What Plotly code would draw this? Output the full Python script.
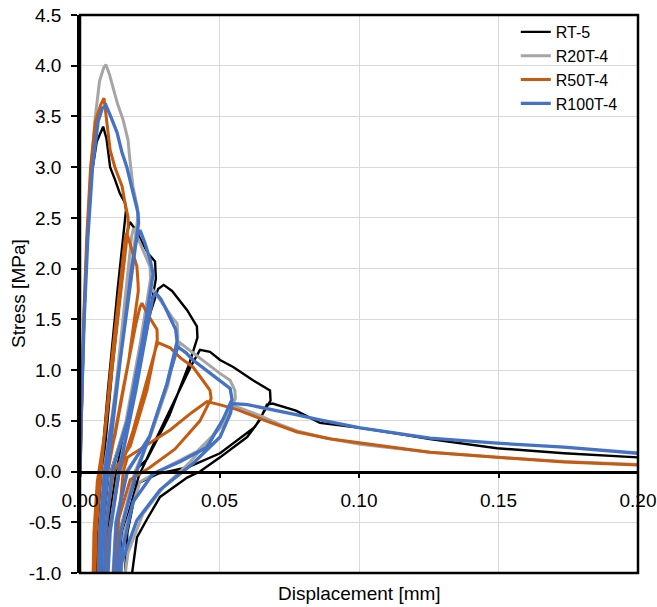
import plotly.graph_objects as go

# ---------------- data ----------------
series_names = ["RT-5", "R20T-4", "R50T-4", "R100T-4"]
series_colors = ["#000000", "#a5a5a5", "#c55a11", "#4472c4"]

rt5_x = [0, 0.0006, 0.0015, 0.0025, 0.0040, 0.0060, 0.0075, 0.0083, 0.0095, 0.0108, 0.0125, 0.0143, 0.0161, 0.0165,
         0.0135, 0.0100, 0.0075, 0.0062, 0.0056,
         0.0062, 0.0068, 0.0082, 0.0115, 0.0150, 0.0168, 0.0179,
         0.0200, 0.0222, 0.0244, 0.0269, 0.0272,
         0.0240, 0.0180, 0.0110, 0.0085, 0.0078,
         0.0088, 0.0098, 0.0130, 0.0190, 0.0250, 0.0280, 0.0300,
         0.0330, 0.0348, 0.0384, 0.0419, 0.0421,
         0.0390, 0.0320, 0.0240, 0.0200, 0.0195, 0.0140, 0.0120,
         0.0130, 0.0155, 0.0210, 0.0260, 0.0340, 0.0400, 0.0430,
         0.0466, 0.0502, 0.0549, 0.0620, 0.0681, 0.0683,
         0.0627, 0.0502, 0.0384, 0.0280, 0.0205, 0.0170, 0.0155,
         0.0172, 0.0204, 0.0240, 0.0287, 0.0384, 0.0430, 0.0502, 0.0599, 0.0645, 0.0670, 0.0690,
         0.0774, 0.0860, 0.1004, 0.1147, 0.1254, 0.1495, 0.1735, 0.2000]
rt5_y = [-0.05, 0.6, 1.5, 2.2, 2.9, 3.25, 3.36, 3.40, 3.28, 3.0, 2.88, 2.74, 2.65, 2.58,
         1.8, 0.8, 0.0, -0.6, -1.3,
         -1.3, -0.6, 0.0, 1.0, 1.9, 2.35, 2.46,
         2.38, 2.26, 2.15, 2.07, 1.90,
         1.4, 0.6, 0.0, -0.6, -1.3,
         -1.3, -0.6, 0.0, 0.8, 1.55, 1.80, 1.84,
         1.78, 1.72, 1.59, 1.43, 1.32,
         1.05, 0.55, 0.12, 0.02, -0.1, -0.6, -1.3,
         -1.3, -0.6, -0.05, 0.25, 0.70, 1.05, 1.20,
         1.18, 1.10, 1.03, 0.90, 0.80, 0.70,
         0.44, 0.18, 0.04, -0.02, -0.12, -0.6, -1.3,
         -1.3, -0.65, -0.47, -0.25, -0.06, 0.0, 0.14, 0.34, 0.51, 0.66, 0.67,
         0.60, 0.48, 0.43, 0.37, 0.32, 0.23, 0.18, 0.14]

r20_x = [0, 0.0005, 0.0014, 0.0026, 0.0040, 0.0055, 0.0070, 0.0085, 0.0093, 0.0105, 0.0118, 0.0135, 0.0154, 0.0172,
         0.0179, 0.0190, 0.0205, 0.0207,
         0.0165, 0.0115, 0.0085, 0.0070, 0.0064,
         0.0070, 0.0078, 0.0095, 0.0135, 0.0175, 0.0185, 0.0192,
         0.0215, 0.0235, 0.0251, 0.0253,
         0.0215, 0.0165, 0.0112, 0.0090, 0.0083,
         0.0093, 0.0105, 0.0138, 0.0195, 0.0240, 0.0250, 0.0258,
         0.0280, 0.0305, 0.0330, 0.0348, 0.0351,
         0.0315, 0.0250, 0.0165, 0.0128, 0.0112,
         0.0122, 0.0142, 0.0195, 0.0250, 0.0310, 0.0345, 0.0358,
         0.0400, 0.0450, 0.0500, 0.0538, 0.0555, 0.0557,
         0.0510, 0.0420, 0.0300, 0.0215, 0.0158, 0.0140,
         0.0148, 0.0172, 0.0225, 0.0300, 0.0390, 0.0470, 0.0525, 0.0545,
         0.0580, 0.0645, 0.0720, 0.0778, 0.0880, 0.1004, 0.1254, 0.1495, 0.1735, 0.2000]
r20_y = [-0.05, 0.6, 1.5, 2.3, 3.0, 3.5, 3.85, 3.98, 4.01, 3.92, 3.79, 3.62, 3.47, 3.27,
         3.07, 2.81, 2.61, 2.50,
         1.6, 0.55, 0.0, -0.6, -1.3,
         -1.3, -0.6, 0.0, 1.0, 2.05, 2.32, 2.40,
         2.25, 2.12, 2.02, 1.90,
         1.25, 0.5, 0.0, -0.6, -1.3,
         -1.3, -0.6, 0.0, 0.8, 1.55, 1.75, 1.80,
         1.72, 1.62, 1.52, 1.46, 1.32,
         0.85, 0.33, 0.0, -0.5, -1.3,
         -1.3, -0.6, -0.02, 0.35, 0.85, 1.18, 1.27,
         1.18, 1.07, 0.97, 0.90, 0.80, 0.72,
         0.45, 0.20, 0.03, -0.1, -0.6, -1.3,
         -1.3, -0.8, -0.42, -0.15, 0.08, 0.33, 0.56, 0.65,
         0.62, 0.55, 0.46, 0.40, 0.33, 0.27, 0.19, 0.14, 0.10, 0.07]

r50_x = [0, 0.0005, 0.0013, 0.0024, 0.0038, 0.0055, 0.0075, 0.0086, 0.0095, 0.0108, 0.0125, 0.0140, 0.0151, 0.0161,
         0.0172, 0.0173,
         0.0135, 0.0090, 0.0062, 0.0050, 0.0045,
         0.0050, 0.0058, 0.0075, 0.0110, 0.0150, 0.0162, 0.0168,
         0.0185, 0.0200, 0.0204, 0.0208, 0.0209,
         0.0175, 0.0125, 0.0090, 0.0070, 0.0062,
         0.0068, 0.0078, 0.0100, 0.0150, 0.0200, 0.0215, 0.0222,
         0.0240, 0.0262, 0.0276, 0.0277,
         0.0240, 0.0180, 0.0120, 0.0095, 0.0085,
         0.0092, 0.0105, 0.0140, 0.0190, 0.0250, 0.0272, 0.0280,
         0.0300, 0.0323, 0.0360, 0.0405, 0.0440, 0.0466, 0.0470,
         0.0430, 0.0340, 0.0250, 0.0180, 0.0135, 0.0112,
         0.0120, 0.0135, 0.0155, 0.0170, 0.0226, 0.0323, 0.0400, 0.0455,
         0.0500, 0.0563, 0.0657, 0.0778, 0.0900, 0.1004, 0.1254, 0.1495, 0.1735, 0.2000]
r50_y = [-0.05, 0.6, 1.5, 2.3, 3.0, 3.45, 3.62, 3.68, 3.45, 3.17, 3.0, 2.9, 2.81, 2.65,
         2.51, 2.42,
         1.5, 0.4, -0.1, -0.6, -1.3,
         -1.3, -0.6, 0.0, 1.0, 2.0, 2.30, 2.35,
         2.20, 2.05, 2.02, 1.86, 1.78,
         1.1, 0.35, 0.0, -0.6, -1.3,
         -1.3, -0.6, 0.0, 0.75, 1.45, 1.62, 1.66,
         1.56, 1.46, 1.40, 1.30,
         0.8, 0.25, 0.0, -0.5, -1.3,
         -1.3, -0.6, -0.02, 0.40, 1.0, 1.22, 1.27,
         1.25, 1.22, 1.12, 1.03, 0.90, 0.80, 0.72,
         0.50, 0.22, 0.04, -0.08, -0.5, -1.3,
         -1.3, -0.6, 0.0, 0.14, 0.24, 0.41, 0.58, 0.69,
         0.66, 0.61, 0.51, 0.39, 0.32, 0.28, 0.19, 0.14, 0.094, 0.064]

r100_x = [0, 0.0005, 0.0015, 0.0028, 0.0045, 0.0065, 0.0080, 0.0093, 0.0110, 0.0133, 0.0150, 0.0168, 0.0190, 0.0208,
          0.0210,
          0.0170, 0.0120, 0.0088, 0.0072, 0.0066,
          0.0072, 0.0080, 0.0098, 0.0140, 0.0185, 0.0205, 0.0215,
          0.0233, 0.0251, 0.0262,
          0.0225, 0.0170, 0.0115, 0.0092, 0.0085,
          0.0095, 0.0108, 0.0140, 0.0200, 0.0250, 0.0262, 0.0272,
          0.0290, 0.0305, 0.0330, 0.0343, 0.0348,
          0.0310, 0.0250, 0.0170, 0.0130, 0.0115,
          0.0125, 0.0145, 0.0200, 0.0250, 0.0310, 0.0340, 0.0350,
          0.0380, 0.0405, 0.0466, 0.0538, 0.0545,
          0.0510, 0.0455, 0.0360, 0.0262, 0.0190, 0.0150, 0.0140,
          0.0135, 0.0143, 0.0204, 0.0287, 0.0405, 0.0502, 0.0540, 0.0545,
          0.0600, 0.0681, 0.0774, 0.0860, 0.1004, 0.1254, 0.1495, 0.1735, 0.2000]
r100_y = [-0.05, 0.6, 1.5, 2.3, 3.0, 3.45, 3.58, 3.61, 3.50, 3.34, 3.15, 3.0, 2.75, 2.55,
          2.45,
          1.6, 0.6, 0.0, -0.6, -1.3,
          -1.3, -0.6, 0.0, 1.0, 2.0, 2.32, 2.38,
          2.25, 2.09, 1.95,
          1.3, 0.5, 0.0, -0.6, -1.3,
          -1.3, -0.6, 0.0, 0.8, 1.55, 1.72, 1.76,
          1.70, 1.62, 1.48, 1.40, 1.28,
          0.85, 0.35, 0.0, -0.5, -1.3,
          -1.3, -0.6, -0.02, 0.35, 0.85, 1.15, 1.23,
          1.17, 1.10, 0.97, 0.82, 0.71,
          0.50, 0.24, 0.10, -0.02, -0.3, -0.8, -1.3,
          -1.3, -0.94, -0.48, -0.18, 0.08, 0.34, 0.58, 0.67,
          0.66, 0.61, 0.56, 0.51, 0.43, 0.33, 0.28, 0.24, 0.18]

x_tick_vals = [0.0, 0.05, 0.10, 0.15, 0.20]
x_tick_text = ["0.00", "0.05", "0.10", "0.15", "0.20"]
y_tick_vals = [-1.0, -0.5, 0.0, 0.5, 1.0, 1.5, 2.0, 2.5, 3.0, 3.5, 4.0, 4.5]
y_tick_text = ["-1.0", "-0.5", "0.0", "0.5", "1.0", "1.5", "2.0", "2.5", "3.0", "3.5", "4.0", "4.5"]

x_title = "Displacement [mm]"
y_title = "Stress [MPa]"

# ---------------- figure ----------------
FONT = "Liberation Sans, Arial, sans-serif"
xs = [rt5_x, r20_x, r50_x, r100_x]
ys = [rt5_y, r20_y, r50_y, r100_y]
widths = [2.4, 3.0, 3.0, 3.3]

fig = go.Figure()
for name, color, w, x, y in zip(series_names, series_colors, widths, xs, ys):
    fig.add_trace(go.Scatter(x=x, y=y, mode="lines", name=name,
                             line=dict(color=color, width=w)))

ymin, ymax = -1.0, 4.5
fig.update_layout(
    width=657, height=607,
    margin=dict(l=80, r=19, t=15, b=34, autoexpand=False),
    paper_bgcolor="white", plot_bgcolor="white",
    font=dict(family=FONT, color="#000000", size=19),
    showlegend=True,
    legend=dict(x=0.781, y=1.0, xanchor="left", yanchor="top",
                bgcolor="rgba(0,0,0,0)", font=dict(size=16, family=FONT),
                tracegroupgap=0, itemwidth=30),
    xaxis=dict(range=[0, 0.2], tickvals=x_tick_vals, ticktext=x_tick_text,
               showgrid=True, gridcolor="#d9d9d9", gridwidth=1,
               showline=True, linecolor="#000000", linewidth=2.5,
               ticks="outside", ticklen=5, tickwidth=2, tickcolor="#000000",
               anchor="free", position=(0 - ymin) / (ymax - ymin),
               zeroline=False, ticklabelstandoff=6, automargin=False,
               ticklabeloverflow="allow",
               tickfont=dict(size=19, family=FONT)),
    yaxis=dict(range=[ymin, ymax], tickvals=y_tick_vals, ticktext=y_tick_text,
               showgrid=True, gridcolor="#d9d9d9", gridwidth=1,
               showline=True, linecolor="#000000", linewidth=2.5,
               ticks="outside", ticklen=6, tickwidth=2, tickcolor="#000000",
               zeroline=False, ticklabelstandoff=6, automargin=False,
               ticklabeloverflow="allow",
               tickfont=dict(size=19, family=FONT)),
    shapes=[dict(type="rect", xref="paper", yref="paper", x0=0, x1=1, y0=0, y1=1,
                 line=dict(color="#000000", width=2.5), layer="above")],
    annotations=[
        dict(text=x_title, xref="paper", yref="paper", x=0.5, y=0, xanchor="center",
             yanchor="top", yshift=-8, showarrow=False, font=dict(size=19, family=FONT)),
        dict(text=y_title, xref="paper", yref="paper", x=0, y=0.5, xanchor="center",
             yanchor="middle", xshift=-62, textangle=-90, showarrow=False,
             font=dict(size=19, family=FONT)),
    ],
)

fig.write_html("out.html", config={"displayModeBar": False},
               post_script="document.body.style.margin='0';document.body.style.overflow='hidden';")
